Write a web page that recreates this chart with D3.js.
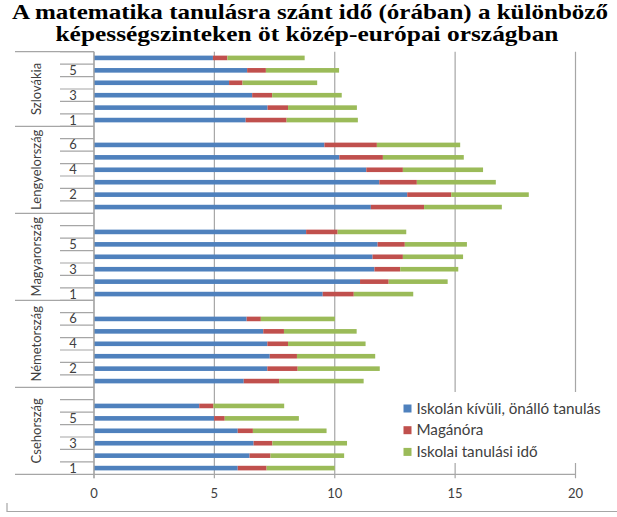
<!DOCTYPE html>
<html lang="hu">
<head>
<meta charset="UTF-8">
<title>Matematika tanulás</title>
<script src="https://d3js.org/d3.v7.min.js"></script>
<style>
    body { margin: 0; padding: 0; background: #fff; }
    text { font-family: Lato, "Open Sans", sans-serif; fill: #404040; }
    .title { font-family: "Liberation Serif", "DejaVu Serif", serif; font-weight: bold; fill: #000; }
</style>
</head>
<body>
<div id="chart"></div>
<script>
    // countries from bottom to top, levels 1..6 in each
    var countries = ["Csehország", "Németország", "Magyarország", "Lengyelország", "Szlovákia"];
    var levels = [1, 2, 3, 4, 5, 6];
    var seriesNames = ["Iskolán kívüli, önálló tanulás", "Magánóra", "Iskolai tanulási idő"];
    var colors = ["#4f81bd", "#c0504d", "#9bbb59"];
    var xTicks = [0, 5, 10, 15, 20];

    // hours per level (1..6)
    var onallo = {
        "Csehország":    [5.97, 6.46, 6.63, 5.97, 4.99, 4.37],
        "Németország":   [6.22, 7.20, 7.30, 7.20, 7.03, 6.34],
        "Magyarország":  [9.50, 11.05, 11.65, 11.57, 11.78, 8.81],
        "Lengyelország": [11.50, 13.01, 11.85, 11.31, 10.19, 9.57],
        "Szlovákia":     [6.30, 7.21, 6.57, 5.61, 6.36, 4.94]
    };
    var maganora = {
        "Csehország":    [1.20, 0.87, 0.78, 0.63, 0.44, 0.59],
        "Németország":   [1.47, 1.26, 1.13, 0.86, 0.86, 0.59],
        "Magyarország":  [1.29, 1.19, 1.07, 1.26, 1.13, 1.31],
        "Lengyelország": [2.21, 1.83, 1.56, 1.52, 1.81, 2.18],
        "Szlovákia":     [1.70, 0.85, 0.83, 0.56, 0.78, 0.60]
    };
    var iskolai = {
        "Csehország":    [2.83, 3.06, 3.10, 3.06, 3.08, 2.94],
        "Németország":   [3.51, 3.41, 3.25, 3.22, 3.02, 3.08],
        "Magyarország":  [2.47, 2.45, 2.41, 2.50, 2.58, 2.85],
        "Lengyelország": [3.23, 3.22, 3.28, 3.33, 3.36, 3.46],
        "Szlovákia":     [2.96, 2.86, 2.89, 3.10, 3.04, 3.21]
    };

    var width = 617, height = 517;
    var plotLeft = 94, plotRight = 575.5, plotTop = 51.7, plotBottom = 474.3;

    // category list, bottom to top, with an empty row between countries
    var rows = [];
    countries.forEach(function(c, ci) {
        levels.forEach(function(l, li) {
            rows.push({ key: c + "|" + l, country: c, level: l, i: li });
        });
        if (ci < countries.length - 1) rows.push({ key: "gap" + ci, country: c, level: null });
    });

    var svg = d3.select("#chart").append("svg")
        .attr("width", width).attr("height", height);

    var x = d3.scaleLinear().domain([0, 20]).range([plotLeft, plotRight]);
    var y = d3.scaleBand()
        .domain(rows.map(function(d) { return d.key; }))
        .range([plotBottom, plotTop]);
    var step = y.step();
    var barH = 4.6;

    // title
    svg.append("text").attr("class", "title")
        .attr("x", 310).attr("y", 18.5).attr("text-anchor", "middle")
        .attr("font-size", 21).attr("textLength", 596).attr("lengthAdjust", "spacingAndGlyphs")
        .text("A matematika tanulásra szánt idő (órában) a különböző");
    svg.append("text").attr("class", "title")
        .attr("x", 307).attr("y", 41).attr("text-anchor", "middle")
        .attr("font-size", 21).attr("textLength", 503).attr("lengthAdjust", "spacingAndGlyphs")
        .text("képességszinteken öt közép-európai országban");

    // vertical gridlines
    svg.selectAll(".grid").data(xTicks).enter().append("line")
        .attr("x1", function(d) { return x(d); }).attr("x2", function(d) { return x(d); })
        .attr("y1", plotTop).attr("y2", plotBottom + 4)
        .attr("stroke", "#a6a6a6").attr("stroke-width", 1.2);

    // x axis line + labels
    svg.append("line").attr("x1", 15).attr("x2", plotRight)
        .attr("y1", plotBottom).attr("y2", plotBottom)
        .attr("stroke", "#a6a6a6").attr("stroke-width", 1.2);
    svg.selectAll(".xlab").data(xTicks).enter().append("text")
        .attr("x", function(d) { return x(d); }).attr("y", 498)
        .attr("text-anchor", "middle").attr("font-size", 13)
        .text(function(d) { return d; });

    // stacked bars
    var stackData = rows.filter(function(d) { return d.level !== null; }).map(function(d) {
        return {
            key: d.key,
            a: onallo[d.country][d.i],
            b: maganora[d.country][d.i],
            c: iskolai[d.country][d.i]
        };
    });
    var stack = d3.stack().keys(["a", "b", "c"]);
    var layers = stack(stackData);

    svg.selectAll(".layer").data(layers).enter().append("g")
        .attr("fill", function(d, i) { return colors[i]; })
        .selectAll("rect").data(function(d) { return d; }).enter().append("rect")
        .attr("x", function(d) { return x(d[0]); })
        .attr("width", function(d) { return x(d[1]) - x(d[0]); })
        .attr("y", function(d) { return y(d.data.key) + (step - barH) / 2; })
        .attr("height", barH);

    // category axis: ticks between rows
    var tickYs = rows.map(function(d) { return y(d.key); });
    svg.selectAll(".ctick").data(tickYs).enter().append("line")
        .attr("x1", 60).attr("x2", plotLeft)
        .attr("y1", function(d) { return d; }).attr("y2", function(d) { return d; })
        .attr("stroke", "#a6a6a6").attr("stroke-width", 1.2);

    // group separators
    var groupTops = countries.map(function(c, ci) {
        var top6 = y(c + "|6");
        return ci < countries.length - 1 ? top6 - step : top6;
    });
    svg.selectAll(".gsep").data(groupTops).enter().append("line")
        .attr("x1", 15).attr("x2", plotLeft)
        .attr("y1", function(d) { return d; }).attr("y2", function(d) { return d; })
        .attr("stroke", "#a6a6a6").attr("stroke-width", 1.2);

    // y axis line
    svg.append("line").attr("x1", plotLeft).attr("x2", plotLeft)
        .attr("y1", plotTop).attr("y2", plotBottom + 4)
        .attr("stroke", "#a6a6a6").attr("stroke-width", 1.2);

    // level labels, every second row
    rows.forEach(function(d, idx) {
        if (idx % 2 === 0 && d.level !== null) {
            svg.append("text")
                .attr("x", 73).attr("y", y(d.key) + step / 2 + 4.5)
                .attr("text-anchor", "middle").attr("font-size", 13)
                .text(d.level);
        }
    });

    // country labels, rotated
    countries.forEach(function(c, ci) {
        var yTop = groupTops[ci];
        var yBot = y(c + "|1") + step;
        var cy = (yTop + yBot) / 2;
        svg.append("text")
            .attr("transform", "translate(40.5," + cy + ") rotate(-90)")
            .attr("text-anchor", "middle").attr("font-size", 13)
            .text(c);
    });

    // legend
    var lg = svg.append("g");
    lg.append("rect").attr("x", 398).attr("y", 392).attr("width", 214).attr("height", 71)
        .attr("fill", "#fff");
    seriesNames.forEach(function(s, i) {
        var ly = 408.5 + i * 21.7;
        lg.append("rect").attr("x", 403.5).attr("y", ly - 4).attr("width", 8).attr("height", 8)
            .attr("fill", colors[i]);
        lg.append("text").attr("x", 416.5).attr("y", ly + 5)
            .attr("font-size", 15.2).text(s);
    });

    // outer frame fragment
    svg.append("path").attr("d", "M7,503V511.5H617")
        .attr("fill", "none").attr("stroke", "#a6a6a6").attr("stroke-width", 1.2);
</script>
</body>
</html>
